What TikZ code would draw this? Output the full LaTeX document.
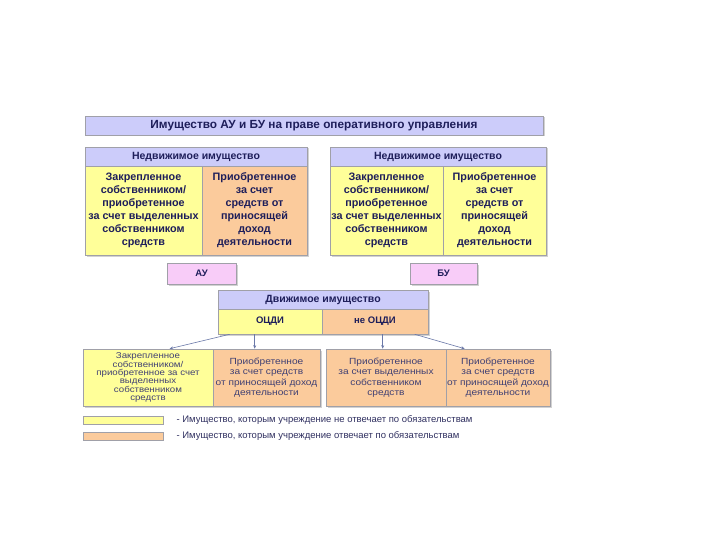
\documentclass[tikz,border=0pt]{standalone}
\usepackage{fontspec}
\setmainfont{Liberation Sans}
\newfontfamily\widefont[FakeStretch=1.14]{Liberation Sans}
\usetikzlibrary{shadows,arrows.meta}
\definecolor{hdr}{HTML}{CCCCFA}
\definecolor{yl}{HTML}{FFFF99}
\definecolor{org}{HTML}{FBCB9C}
\definecolor{pnk}{HTML}{F8CCF8}
\definecolor{txt}{HTML}{1E1E5A}
\definecolor{brd}{HTML}{A0A0A8}
\definecolor{arc}{HTML}{6A78A8}
\tikzset{
  box/.style={draw=brd, line width=0.6pt, rectangle, inner sep=0pt, align=center, text=txt,
    drop shadow={shadow xshift=1.5pt, shadow yshift=-1.5pt, fill=black!35}},
  hbox/.style={box, fill=hdr, font=\fontsize{10.5}{12}\selectfont\bfseries},
  bigcell/.style={box, font=\fontsize{10.8}{13}\selectfont\bfseries},
  smallcell/.style={box, font=\widefont\fontsize{8.9}{10.4}\selectfont, text=txt!85!white},
  arr/.style={draw=arc, line width=0.6pt, -{Stealth[length=3.5pt,width=3pt]}},
  legtxt/.style={anchor=west, font=\fontsize{9.5}{11}\selectfont, text=txt!80!gray}
}
\begin{document}
\begin{tikzpicture}[x=1pt,y=-1pt]
\useasboundingbox[fill=white] (0,0) rectangle (720,540);
% title
\node[hbox, minimum width=458pt, minimum height=19pt, font=\fontsize{11.8}{13}\selectfont\bfseries] (T) at (314,125.5) {Имущество АУ и БУ на праве оперативного управления};
% left block
\node[hbox, minimum width=222pt, minimum height=19pt] (LH) at (196,156.5) {Недвижимое имущество};
\node[bigcell, fill=yl, minimum width=117pt, minimum height=89pt] (L1) at (143.5,210.5) {Закрепленное\\собственником/\\приобретенное\\за счет выделенных\\собственником\\средств};
\node[bigcell, fill=org, minimum width=105pt, minimum height=89pt] (L2) at (254.5,210.5) {Приобретенное\\за счет\\средств от\\приносящей\\доход\\деятельности};
% right block
\node[hbox, minimum width=216pt, minimum height=19pt] (RH) at (438,156.5) {Недвижимое имущество};
\node[bigcell, fill=yl, minimum width=113pt, minimum height=89pt] (R1) at (386.5,210.5) {Закрепленное\\собственником/\\приобретенное\\за счет выделенных\\собственником\\средств};
\node[bigcell, fill=yl, minimum width=103pt, minimum height=89pt] (R2) at (494.5,210.5) {Приобретенное\\за счет\\средств от\\приносящей\\доход\\деятельности};
% AU / BU
\node[box, fill=pnk, minimum width=69pt, minimum height=21pt, font=\fontsize{9.5}{11}\selectfont\bfseries] (AU) at (201.5,273.5) {АУ};
\node[box, fill=pnk, minimum width=67pt, minimum height=21pt, font=\fontsize{9.5}{11}\selectfont\bfseries] (BU) at (443.5,273.5) {БУ};
% movable
\node[hbox, minimum width=210pt, minimum height=19pt] (MH) at (323,299.5) {Движимое имущество};
\node[box, fill=yl, minimum width=104pt, minimum height=25pt, font=\fontsize{9.5}{11}\selectfont\bfseries] (O) at (270,321.5) {ОЦДИ};
\node[box, fill=org, minimum width=106pt, minimum height=25pt, font=\fontsize{9.5}{11}\selectfont\bfseries] (N) at (375,321.5) {не ОЦДИ};
% lower boxes
\node[smallcell, fill=yl, minimum width=130pt, minimum height=57pt, font=\widefont\fontsize{8.5}{8.3}\selectfont] (B1) at (148,377.5) {Закрепленное\\собственником/\\приобретенное за счет\\выделенных\\собственником\\средств};
\node[smallcell, fill=org, minimum width=107pt, minimum height=57pt] (B2) at (266.5,377.5) {Приобретенное\\за счет средств\\от приносящей доход\\деятельности};
\node[smallcell, fill=org, minimum width=120pt, minimum height=57pt] (B3) at (386,377.5) {Приобретенное\\за счет выделенных\\собственником\\средств};
\node[smallcell, fill=org, minimum width=104pt, minimum height=57pt] (B4) at (498,377.5) {Приобретенное\\за счет средств\\от приносящей доход\\деятельности};
% arrows
\draw[arr] ([xshift=12pt]O.south west) -- ([xshift=87pt]B1.north west);
\draw[arr] ([xshift=37pt]O.south west) -- ([xshift=42pt]B2.north west);
\draw[arr] ([xshift=61pt]N.south west) -- ([xshift=57pt]B3.north west);
\draw[arr] ([xshift=93pt]N.south west) -- ([xshift=19pt]B4.north west);
% legend
\node[draw=brd, fill=yl, minimum width=80pt, minimum height=8pt, inner sep=0pt] (LY) at (123,420) {};
\node[draw=brd, fill=org, minimum width=80pt, minimum height=8pt, inner sep=0pt] (LO) at (123,436) {};
\node[legtxt] (LYT) at (173,420) {- Имущество, которым учреждение не отвечает по обязательствам};
\node[legtxt] (LOT) at (173,436) {- Имущество, которым учреждение отвечает по обязательствам};
\end{tikzpicture}
\end{document}
